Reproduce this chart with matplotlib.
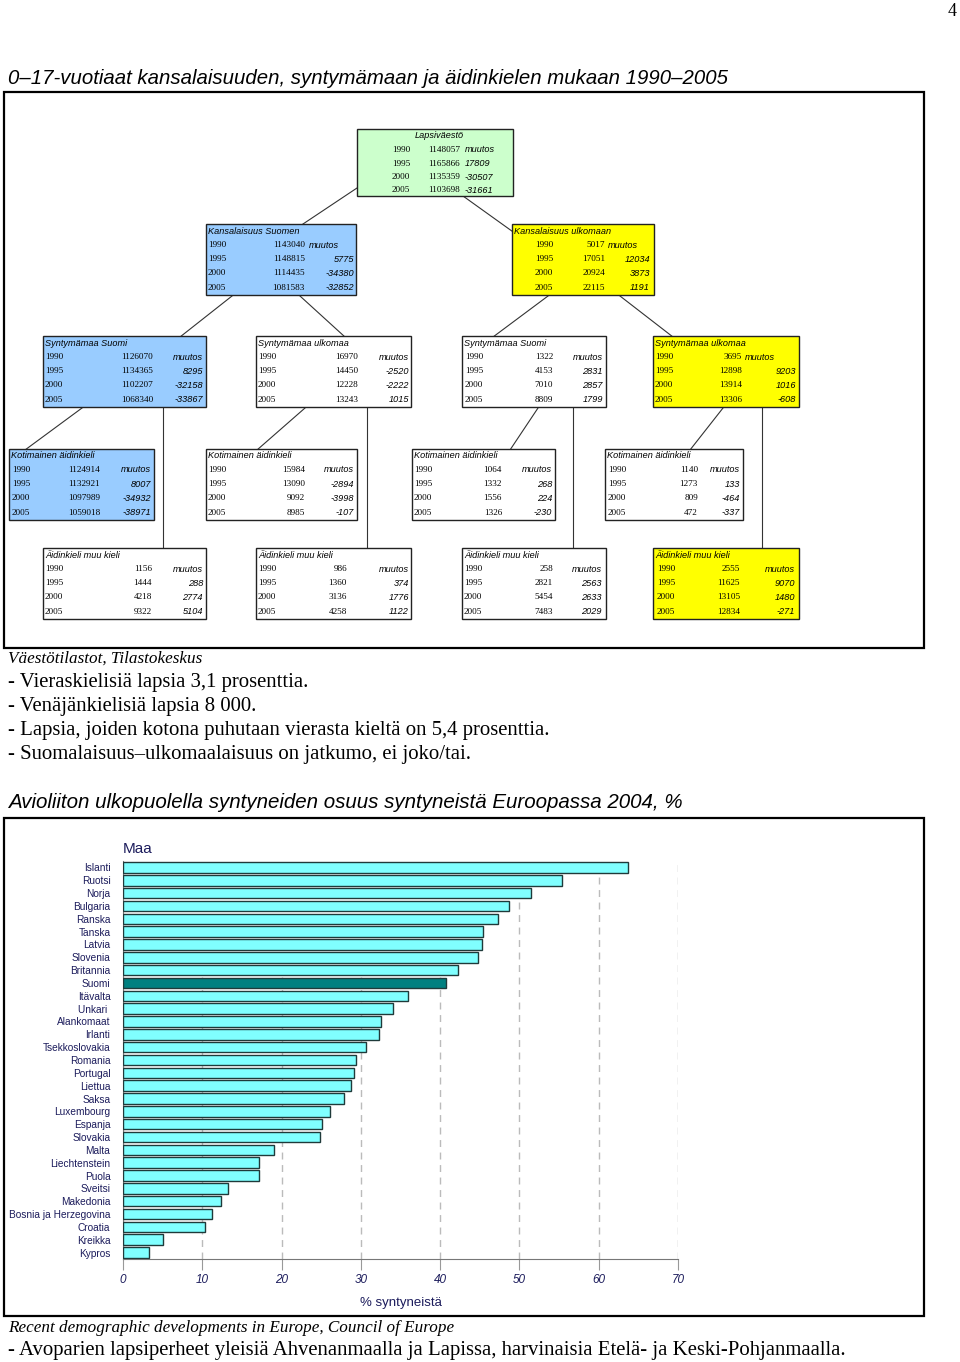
#!/usr/bin/env python3
# coding: utf-8

import numpy as np
import matplotlib
matplotlib.use("Agg")
import matplotlib.pyplot as plt
from matplotlib.patches import Rectangle

# --- lukumaarat 0-17-vuotiaat ---
vuodet = [1990, 1995, 2000, 2005]
lapsivaesto = [1148057, 1165866, 1135359, 1103698]
kans_suomi = [1143040, 1148815, 1114435, 1081583]
kans_ulko = [5017, 17051, 20924, 22115]
fi_synt_fi = [1126070, 1134365, 1102207, 1068340]
fi_synt_ulk = [16970, 14450, 12228, 13243]
ulk_synt_fi = [1322, 4153, 7010, 8809]
ulk_synt_ulk = [3695, 12898, 13914, 13306]
kotim_1 = [1124914, 1132921, 1097989, 1059018]
kotim_2 = [15984, 13090, 9092, 8985]
kotim_3 = [1064, 1332, 1556, 1326]
kotim_4 = [1140, 1273, 809, 472]
muu_1 = [1156, 1444, 4218, 9322]
muu_2 = [986, 1360, 3136, 4258]
muu_3 = [258, 2821, 5454, 7483]
muu_4 = [2555, 11625, 13105, 12834]

# --- avioliiton ulkopuolella syntyneet 2004, % ---
maat = ["Islanti", "Ruotsi", "Norja", "Bulgaria", "Ranska", "Tanska", "Latvia",
        "Slovenia", "Britannia", "Suomi", "Itävalta", "Unkari ", "Alankomaat",
        "Irlanti", "Tsekkoslovakia", "Romania", "Portugal", "Liettua", "Saksa",
        "Luxembourg", "Espanja", "Slovakia", "Malta", "Liechtenstein", "Puola",
        "Sveitsi", "Makedonia", "Bosnia ja Herzegovina", "Croatia", "Kreikka", "Kypros"]
osuus = [63.7, 55.4, 51.4, 48.7, 47.3, 45.4, 45.3, 44.8, 42.3, 40.8, 35.9, 34.0,
         32.5, 32.3, 30.6, 29.4, 29.1, 28.7, 27.9, 26.1, 25.1, 24.8, 19.0, 17.2,
         17.1, 13.3, 12.3, 11.2, 10.4, 5.0, 3.3]

SERIF = "Liberation Serif"
SANS = "Liberation Sans"
NARROW = ["Liberation Sans Narrow", "Liberation Sans", "DejaVu Sans"]
NAVY = "#1c1c5c"
BLUE = "#99ccff"
YELLOW = "#ffff00"
GREEN = "#ccffcc"

fig = plt.figure(figsize=(9.6, 13.62), dpi=100)
ax = fig.add_axes([0, 0, 1, 1])
ax.set_xlim(0, 960)
ax.set_ylim(1362, 0)
ax.axis("off")


def box(x0, x1, y0, h, color, title, title_x, title_ha, vals, cols, step=14.2):
    ax.add_patch(Rectangle((x0, y0), x1 - x0, h, facecolor=color,
                           edgecolor="#222222", lw=1.0, zorder=3))
    ax.text(title_x, y0 + 7, title, family=SANS, style="italic", fontsize=6.6,
            ha=title_ha, va="center", zorder=4)
    yx, yha, vx, vha, cx, cha, mx, mha = cols
    muutos = np.diff(vals)
    for i, (v, a) in enumerate(zip(vuodet, vals)):
        yy = y0 + 21 + step * i
        ax.text(yx, yy, str(v), family=SERIF, fontsize=6.6, ha=yha, va="center", zorder=4)
        ax.text(vx, yy, str(a), family=SERIF, fontsize=6.6, ha=vha, va="center", zorder=4)
        if i == 0:
            ax.text(mx, yy, "muutos", family=SANS, style="italic", fontsize=6.6,
                    ha=mha, va="center", zorder=4)
        else:
            ax.text(cx, yy, str(muutos[i - 1]), family=SANS, style="italic",
                    fontsize=6.6, ha=cha, va="center", zorder=4)


# sivunumero ja otsikko
ax.text(952, 12, "4", family=SERIF, fontsize=13, ha="center", va="center")
ax.text(8, 78, "0\u201317-vuotiaat kansalaisuuden, syntymämaan ja äidinkielen mukaan 1990\u20132005",
        family=NARROW, style="italic", fontsize=14.7, ha="left", va="center")

# kehys
ax.add_patch(Rectangle((4, 92), 920, 556, fill=False, edgecolor="black", lw=1.6))

# yhdysviivat
viivat = [((300, 226), (357, 188)), ((463, 196), (516, 234)),
          ((232, 296), (180, 337)), ((300, 296), (345, 337)),
          ((548, 296), (493, 337)), ((620, 296), (673, 337)),
          ((82, 408), (25, 450)), ((163, 408), (163, 548)),
          ((305, 408), (257, 450)), ((367, 408), (367, 548)),
          ((538, 408), (510, 450)), ((573, 408), (573, 548)),
          ((723, 408), (690, 450)), ((762, 408), (762, 548))]
for (xa, ya), (xb, yb) in viivat:
    ax.plot([xa, xb], [ya, yb], color="#333333", lw=0.8, zorder=2)

box(357, 513, 129, 67, GREEN, "Lapsiväestö", 439, "center", lapsivaesto,
    (392, "left", 428, "left", 465, "left", 465, "left"), step=13.5)
box(206, 356, 224, 71, BLUE, "Kansalaisuus Suomen", 208, "left", kans_suomi,
    (208, "left", 305, "right", 354, "right", 309, "left"))
box(512, 654, 224, 71, YELLOW, "Kansalaisuus ulkomaan", 514, "left", kans_ulko,
    (535, "left", 605, "right", 650, "right", 608, "left"))

box(43, 206, 336, 71, BLUE, "Syntymämaa Suomi", 45, "left", fi_synt_fi,
    (45, "left", 153, "right", 203, "right", 203, "right"))
box(256, 411, 336, 71, "white", "Syntymämaa ulkomaa", 258, "left", fi_synt_ulk,
    (258, "left", 358, "right", 409, "right", 409, "right"))
box(462, 606, 336, 71, "white", "Syntymämaa Suomi", 464, "left", ulk_synt_fi,
    (465, "left", 553, "right", 603, "right", 603, "right"))
box(653, 799, 336, 71, YELLOW, "Syntymämaa ulkomaa", 655, "left", ulk_synt_ulk,
    (655, "left", 742, "right", 796, "right", 745, "left"))

box(9, 154, 449, 71, BLUE, "Kotimainen äidinkieli", 11, "left", kotim_1,
    (12, "left", 100, "right", 151, "right", 151, "right"))
box(206, 357, 449, 71, "white", "Kotimainen äidinkieli", 208, "left", kotim_2,
    (208, "left", 305, "right", 354, "right", 354, "right"))
box(412, 555, 449, 71, "white", "Kotimainen äidinkieli", 414, "left", kotim_3,
    (414, "left", 502, "right", 552, "right", 552, "right"))
box(605, 743, 449, 71, "white", "Kotimainen äidinkieli", 607, "left", kotim_4,
    (608, "left", 698, "right", 740, "right", 740, "right"))

box(43, 206, 548, 71, "white", "Äidinkieli muu kieli", 45, "left", muu_1,
    (45, "left", 152, "right", 203, "right", 203, "right"))
box(256, 411, 548, 71, "white", "Äidinkieli muu kieli", 258, "left", muu_2,
    (258, "left", 347, "right", 409, "right", 409, "right"))
box(462, 606, 548, 71, "white", "Äidinkieli muu kieli", 464, "left", muu_3,
    (464, "left", 553, "right", 602, "right", 602, "right"))
box(653, 799, 548, 71, YELLOW, "Äidinkieli muu kieli", 655, "left", muu_4,
    (657, "left", 740, "right", 795, "right", 795, "right"))

# tekstit
ax.text(8, 659, "Väestötilastot, Tilastokeskus", family=SERIF, style="italic",
        fontsize=12.3, ha="left", va="center")
rivit = ["- Vieraskielisiä lapsia 3,1 prosenttia.",
         "- Venäjänkielisiä lapsia 8 000.",
         "- Lapsia, joiden kotona puhutaan vierasta kieltä on 5,4 prosenttia.",
         "- Suomalaisuus\u2013ulkomaalaisuus on jatkumo, ei joko/tai."]
for i, r in enumerate(rivit):
    ax.text(8, 682 + 24 * i, r, family=SERIF, fontsize=14.95, ha="left", va="center")

ax.text(8, 803, "Avioliiton ulkopuolella syntyneiden osuus syntyneistä Euroopassa 2004, %",
        family=NARROW, style="italic", fontsize=14.8, ha="left", va="center")
ax.add_patch(Rectangle((4, 818), 920, 498, fill=False, edgecolor="black", lw=1.6))

ax.text(8, 1328, "Recent demographic developments in Europe, Council of Europe",
        family=SERIF, style="italic", fontsize=12.3, ha="left", va="center")
ax.text(8, 1350, "- Avoparien lapsiperheet yleisiä Ahvenanmaalla ja Lapissa, "
        "harvinaisia Etelä- ja Keski-Pohjanmaalla.",
        family=SERIF, fontsize=14.95, ha="left", va="center")

# pylvaskuvio
H = 1362.0
bx = fig.add_axes([123 / 960, 1 - 1259 / H, (678 - 123) / 960, (1259 - 861) / H])
ypos = np.arange(len(maat))
varit = ["#008080" if m == "Suomi" else "#80ffff" for m in maat]
bx.barh(ypos, osuus, height=0.82, color=varit, edgecolor="#1f3a3a", lw=1.0, zorder=3)
bx.set_ylim(len(maat) - 0.5, -0.5)
bx.set_xlim(0, 70)
bx.set_xticks(range(0, 71, 10))
bx.set_xticklabels([str(t) for t in range(0, 71, 10)], style="italic",
                   family=SANS, fontsize=8.5, color=NAVY)
bx.tick_params(axis="x", length=8, color="#999999", pad=3)
bx.set_yticks(ypos)
bx.set_yticklabels(maat, family=SANS, fontsize=7.3, color=NAVY)
bx.tick_params(axis="y", length=0, pad=9)
bx.grid(axis="x", color="#bbbbbb", lw=1.0, linestyle=(0, (5, 4)), zorder=0)
for s in ["top", "right"]:
    bx.spines[s].set_visible(False)
bx.spines["bottom"].set_color("#777777")
bx.spines["left"].set_color("#777777")
bx.set_xlabel("% syntyneistä", family=SANS, fontsize=9.5, color=NAVY, labelpad=8)
ax.text(123, 849, "Maa", family=SANS, fontsize=11, color=NAVY, ha="left", va="center")

fig.savefig("out.png", dpi=100)
